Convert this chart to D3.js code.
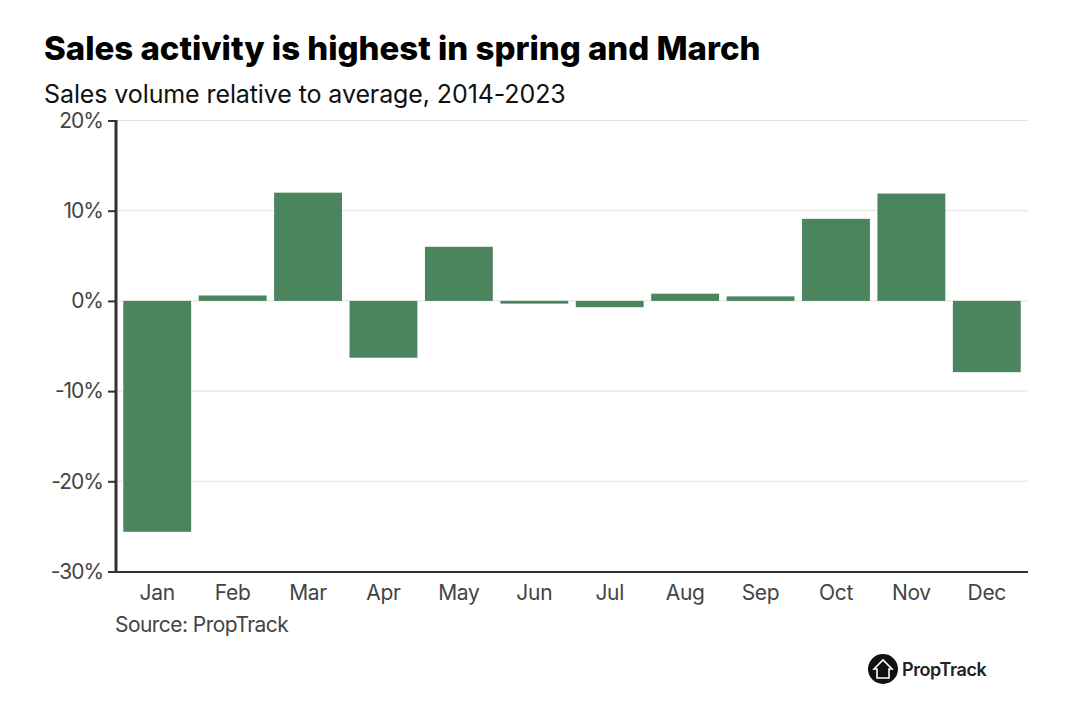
<!DOCTYPE html>
<html><head><meta charset="utf-8">
<script src="https://cdn.jsdelivr.net/npm/d3@7"></script>
<style>html,body{margin:0;background:#fff}svg{display:block}text{font-family:Inter,"Noto Sans",sans-serif}</style>
</head><body><svg id="c" width="1080" height="707"></svg>
<script>
const categories=["Jan","Feb","Mar","Apr","May","Jun","Jul","Aug","Sep","Oct","Nov","Dec"];
const values=[-25.6,0.6,12,-6.3,6,-0.3,-0.7,0.8,0.5,9.1,11.9,-7.9];
const yTicks=[-30,-20,-10,0,10,20];
const title="Sales activity is highest in spring and March";
const subtitle="Sales volume relative to average, 2014-2023";
const source="Source: PropTrack";
const brand="PropTrack";
const svg=d3.select("#c");
const x=d3.scaleBand().domain(categories).range([119.5,1024.5]).paddingInner(0.1).paddingOuter(0.05);
const y=d3.scaleLinear().domain([-30,20]).range([571.5,120.5]);
svg.append("text").attr("x",44).attr("y",60).attr("font-size",33).attr("font-weight",800).attr("letter-spacing",-0.02).attr("fill","#000").text(title);
svg.append("text").attr("x",44).attr("y",103).attr("font-size",25).attr("letter-spacing",-0.1).attr("fill","#111").text(subtitle);
svg.append("g").selectAll("line").data(yTicks).join("line")
 .attr("x1",116).attr("x2",1028).attr("y1",d=>y(d)).attr("y2",d=>y(d)).attr("stroke","#e2e2e2").attr("stroke-width",1);
svg.append("g").selectAll("rect").data(values).join("rect")
 .attr("x",(d,i)=>x(categories[i])).attr("width",x.bandwidth())
 .attr("y",d=>y(Math.max(0,d))).attr("height",d=>Math.abs(y(d)-y(0))).attr("fill","#4a855d");
const ay=svg.append("g").attr("transform","translate(116,0)").call(d3.axisLeft(y).tickValues(yTicks).tickSize(8).tickPadding(5).tickFormat(d=>d+"%"));
ay.selectAll("path").attr("stroke","#333").attr("stroke-width",3).attr("d","M0,120V572");
ay.selectAll("line").attr("stroke","#333").attr("stroke-width",2);
ay.selectAll("text").attr("font-size",21).attr("letter-spacing",-1).attr("fill","#444");
const ax=svg.append("g").attr("transform","translate(0,572)").call(d3.axisBottom(x).tickSize(0).tickPadding(13));
ax.select("path").attr("stroke","#333").attr("stroke-width",2).attr("d","M108,0H1028");
ax.selectAll("text").attr("font-size",21).attr("letter-spacing",-0.3).attr("fill","#444");
svg.append("text").attr("x",115).attr("y",632).attr("font-size",21).attr("letter-spacing",-0.55).attr("fill","#444").text(source);
svg.append("circle").attr("cx",883).attr("cy",669).attr("r",15).attr("fill","#111");
svg.append("path").attr("d",d3.line()([[874,669],[883,660],[892,669],[889,669],[889,678],[877,678],[877,669]])+"Z").attr("fill","none").attr("stroke","#fff").attr("stroke-width",1.6);
svg.append("text").attr("x",902).attr("y",676).attr("font-size",18).attr("font-weight",600).attr("letter-spacing",-0.4).attr("fill","#222").text(brand);
</script></body></html>
